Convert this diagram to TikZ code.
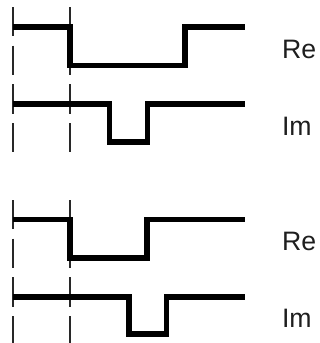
\documentclass[tikz,border=0pt]{standalone}
\usepackage{fontspec}
\setmainfont{Liberation Sans}

\tikzset{every picture/.style={line width=0.75pt}}

\begin{document}
\begin{tikzpicture}[x=0.75pt,y=0.75pt,yscale=-1,xscale=1,
    wave/.style={line width=4.4pt, line join=miter},
    guide/.style={line width=1.1pt, color={rgb, 255:red, 40; green, 40; blue, 40 }, dash pattern={on 22.1pt off 6.9pt}},
    lbl/.style={anchor=base west, inner sep=0pt, font=\fontsize{20}{24}\selectfont, color={rgb, 255:red, 30; green, 30; blue, 30 }}]
\useasboundingbox (0,0) rectangle (320,343);

%Straight Lines [id:guides top]
\draw [guide]  (13,7) -- (13,156) ;
\draw [guide]  (70,7) -- (70,156) ;
%Straight Lines [id:guides bottom]
\draw [guide]  (13,200) -- (13,343) ;
\draw [guide]  (70,200) -- (70,343) ;

%Shape: Waveform [id:re top]
\draw [wave]  (13,27) -- (70,27) -- (70,65.5) -- (185,65.5) -- (185,27) -- (245,27) ;
%Shape: Waveform [id:im top]
\draw [wave]  (13,104) -- (109.5,104) -- (109.5,142) -- (147.5,142) -- (147.5,104) -- (245,104) ;
%Shape: Waveform [id:re bottom]
\draw [wave]  (13,219.5) -- (70,219.5) -- (70,258) -- (147,258) -- (147,219.5) -- (245,219.5) ;
%Shape: Waveform [id:im bottom]
\draw [wave]  (13,297) -- (129,297) -- (129,334) -- (166.5,334) -- (166.5,297) -- (245,297) ;

% Text Node
\node [lbl] (reTop) at (281.5,58) {Re};
% Text Node
\node [lbl] (imTop) at (281.5,135) {Im};
% Text Node
\node [lbl] (reBot) at (281.5,250) {Re};
% Text Node
\node [lbl] (imBot) at (281.5,327) {Im};

\end{tikzpicture}
\end{document}
